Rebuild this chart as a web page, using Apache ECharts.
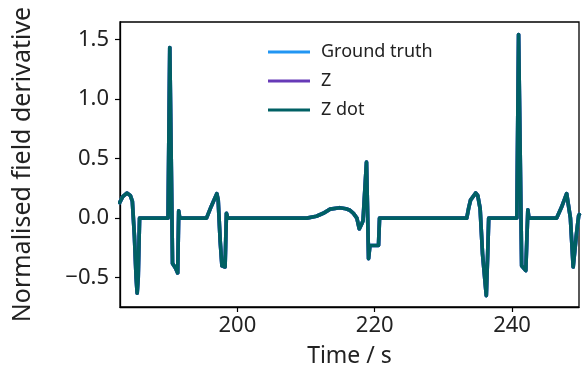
<!DOCTYPE html>
<html>
<head>
<meta charset="utf-8">
<title>Normalised field derivative</title>
<script src="https://cdn.jsdelivr.net/npm/echarts@6/dist/echarts.min.js"></script>
<style>
  html, body { margin: 0; padding: 0; background: #ffffff; }
  #chart { width: 587px; height: 390px; }
</style>
</head>
<body>
<div id="chart"></div>
<script>
// Sample times (s)
const time = [
  182.85, 183.3, 183.9, 184.4, 184.7, 185.0, 185.25, 185.4, 185.55, 185.75,
  189.9, 190.15, 190.55, 191.0, 191.3, 191.45, 191.6,
  195.5, 196.2, 197.0, 197.2, 197.5, 197.75, 198.2, 198.4, 198.6,
  210.1, 211.5, 212.5, 213.5, 214.9, 215.8, 216.4, 216.9, 217.4, 217.75, 218.1, 218.3,
  218.8, 219.1, 219.3, 220.55, 220.7,
  233.4, 233.7, 233.95, 234.7, 235.0, 235.35, 235.7, 236.25, 236.45, 236.6,
  240.7, 240.95, 241.4, 242.0, 242.15, 242.3, 242.45,
  246.5, 247.2, 247.95, 248.5, 248.9, 249.15, 249.35, 249.7, 249.8
];

// Normalised field derivative (Z dot); ground truth and Z coincide with it at this scale
const zDot = [
  0.13, 0.18, 0.21, 0.19, 0.14, -0.15, -0.5, -0.63, -0.5, 0.0,
  0.0, 1.43, -0.38, -0.42, -0.46, 0.06, 0.0,
  0.0, 0.1, 0.205, 0.15, -0.2, -0.40, -0.41, 0.04, 0.0,
  0.0, 0.015, 0.04, 0.075, 0.087, 0.078, 0.065, 0.04, 0.0, -0.09, -0.05, -0.02,
  0.47, -0.34, -0.23, -0.23, 0.0,
  0.0, 0.09, 0.15, 0.21, 0.19, 0.08, -0.3, -0.65, -0.3, 0.0,
  0.0, 1.54, -0.40, -0.44, -0.45, 0.07, 0.0,
  0.0, 0.09, 0.205, 0.0, -0.41, -0.42, -0.15, 0.02, 0.03
];
const groundTruth = zDot;
const z = zDot;

const seriesNames = ['Ground truth', 'Z', 'Z dot'];
const seriesColors = ['#2196F3', '#673AB7', '#006064'];
const seriesValues = [groundTruth, z, zDot];

const xTicks = [200, 220, 240];
const yTicks = [-0.5, 0.0, 0.5, 1.0, 1.5];

const fontFamily = '"Noto Sans", "Open Sans", sans-serif';

const chart = echarts.init(document.getElementById('chart'), null, { renderer: 'canvas' });

const series = seriesNames.map((name, i) => ({
  name: name,
  type: 'line',
  data: time.map((t, k) => [t, seriesValues[i][k]]),
  showSymbol: false,
  symbol: 'none',
  smooth: false,
  clip: true,
  animation: false,
  lineStyle: { color: seriesColors[i], width: 3.7, join: 'round', cap: 'round' },
  itemStyle: { color: seriesColors[i] },
  z: 2 + i
}));

chart.setOption({
  animation: false,
  backgroundColor: '#ffffff',
  grid: {
    left: 120, right: 8, top: 22, bottom: 83,
    show: true, borderColor: '#000', borderWidth: 1.3, backgroundColor: 'transparent'
  },
  legend: {
    orient: 'vertical',
    left: 263,
    top: 38,
    icon: 'rect',
    itemWidth: 42,
    itemHeight: 3,
    itemGap: 11,
    data: seriesNames,
    textStyle: {
      fontFamily: fontFamily, fontSize: 18, color: '#222', lineHeight: 18,
      padding: [0, 0, 0, 6]
    }
  },
  xAxis: {
    type: 'value',
    min: 182.9,
    max: 249.75,
    name: 'Time / s',
    nameLocation: 'middle',
    nameGap: 38,
    nameTextStyle: { fontFamily: fontFamily, fontSize: 23, color: '#222' },
    axisLine: { show: true, onZero: false, lineStyle: { color: '#000', width: 1.3 } },
    axisTick: { show: true, inside: false, length: 5, customValues: xTicks, lineStyle: { color: '#000', width: 1.2 } },
    axisLabel: {
      customValues: xTicks, margin: 8,
      fontFamily: fontFamily, fontSize: 22, color: '#222',
      formatter: v => String(Math.round(v))
    },
    splitLine: { show: false }
  },
  yAxis: {
    type: 'value',
    min: -0.746,
    max: 1.645,
    name: 'Normalised field derivative',
    nameLocation: 'middle',
    nameGap: 85,
    nameTextStyle: { fontFamily: fontFamily, fontSize: 25, color: '#222' },
    axisLine: { show: true, onZero: false, lineStyle: { color: '#000', width: 1.3 } },
    axisTick: { show: true, inside: false, length: 5, customValues: yTicks, lineStyle: { color: '#000', width: 1.2 } },
    axisLabel: {
      customValues: yTicks, margin: 11,
      fontFamily: fontFamily, fontSize: 22, color: '#222',
      formatter: v => v.toFixed(1).replace('-', '\u2212')
    },
    splitLine: { show: false }
  },
  series: series
});
</script>
</body>
</html>
